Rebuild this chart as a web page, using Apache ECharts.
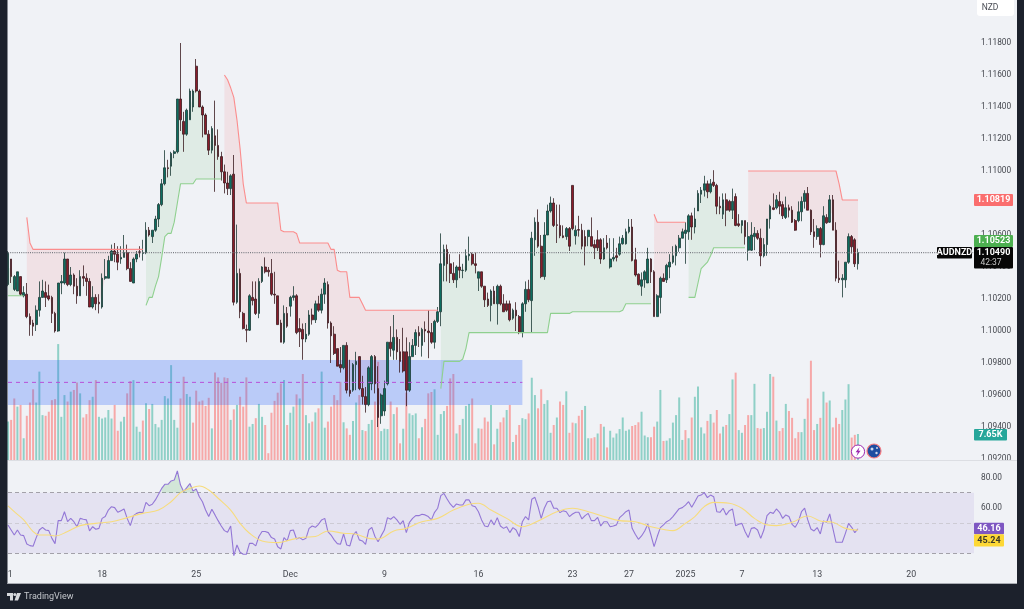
<!DOCTYPE html>
<html><head><meta charset="utf-8">
<style>html,body{margin:0;padding:0;background:#1c212c;overflow:hidden}#c{width:1024px;height:609px}</style>
<script src="https://cdn.jsdelivr.net/npm/echarts@6/dist/echarts.min.js"></script>
</head><body><div id="c"></div>
<script>
const opens=[
1.1029,1.1045,1.1026,1.1025,1.1034,1.1022,1.1023,1.1009,1.1005,1.1004,
1.1013,1.1021,1.1024,1.1022,1.1021,1.1011,1.1000,1.1030,1.1030,1.1045,
1.1029,1.1035,1.1028,1.1022,1.1034,1.1033,1.1031,1.1015,1.1021,1.1018,
1.1015,1.1033,1.1033,1.1044,1.1050,1.1048,1.1045,1.1046,1.1049,1.1039,
1.1030,1.1045,1.10495,1.10485,1.1049,1.1063,1.1059,1.1063,1.1070,1.1079,
1.1092,1.1102,1.1103,1.1111,1.1112,1.1145,1.1131,1.1123,1.1132,1.1140,
1.11655,1.1150,1.1140,1.1135,1.1123,1.1113,1.1122,1.1116,1.1109,1.10995,
1.10925,1.1089,1.1098,1.1018,1.1036,1.1011,1.1001,1.10005,1.1021,1.1020,
1.1011,1.1031,1.1040,1.1038,1.1036,1.1023,1.1022,1.1005,1.0993,1.1011,
1.10155,1.1021,1.1022,1.10015,1.1001,1.0995,1.0998,1.1010,1.1007,1.1017,
1.1013,1.1023,1.1029,1.1005,1.0998,1.0989,1.0979,1.0977,1.0991,1.0963,
1.0963,1.0979,1.0984,1.0964,1.0959,1.0954,1.0967,1.0984,1.0964,1.0947,
1.0950,1.0967,1.0993,1.0988,1.0996,1.0987,1.0987,1.0987,1.0963,1.0984,
1.0991,1.0999,1.0991,1.1001,1.1000,1.0999,1.0993,1.1006,1.1012,1.1041,
1.1051,1.1042,1.1036,1.1032,1.1040,1.10378,1.1038,1.1047,1.1048,1.1042,
1.1033,1.1037,1.1028,1.1020,1.1016,1.1025,1.1017,1.1028,1.1017,1.1017,
1.1017,1.1008,1.1013,1.1009,1.0999,1.1017,1.1026,1.1019,1.1057,1.1068,
1.1053,1.1034,1.1060,1.1075,1.1080,1.10664,1.1066,1.10595,1.1059,1.1064,
1.1091,1.10595,1.10634,1.1063,1.1059,1.1059,1.1059,1.1054,1.1057,1.1057,
1.1045,1.1055,1.1040,1.1045,1.1047,1.1048,1.10545,1.10545,1.1062,1.1065,
1.10445,1.10355,1.1028,1.1032,1.1030,1.1045,1.1037,1.1009,1.1021,1.1033,
1.1032,1.1040,1.1043,1.1047,1.1052,1.1058,1.1061,1.1062,1.1072,1.1065,
1.1075,1.10855,1.1088,1.1092,1.1087,1.1093,1.1091,1.1078,1.1073,1.1082,
1.1081,1.10755,1.1084,1.1067,1.1066,1.1069,1.10505,1.10505,1.1059,1.1061,
1.1058,1.1047,1.1054,1.1070,1.1077,1.1077,1.1081,1.1079,1.1071,1.1077,
1.10755,1.1069,1.1069,1.10745,1.1081,1.1086,1.10755,1.1062,1.1059,1.1064,
1.1054,1.1071,1.1068,1.1082,1.1063,1.1033,1.1032,1.1032,1.1043,1.1059,
1.1057,1.1042];
const highs=[
1.1050,1.1045,1.1035,1.1037,1.1034,1.1028,1.1030,1.1011,1.1007,1.1016,
1.1031,1.1032,1.1031,1.1029,1.1022,1.1012,1.1030,1.1035,1.1049,1.1045,
1.1040,1.1036,1.1033,1.1038,1.1041,1.1036,1.1033,1.1028,1.1023,1.1023,
1.1036,1.1045,1.1047,1.1054,1.1055,1.1053,1.1053,1.1060,1.1054,1.1043,
1.1046,1.1050,1.1053,1.1057,1.1068,1.1065,1.1063,1.1072,1.1080,1.1095,
1.1113,1.1107,1.1112,1.1113,1.1145,1.1180,1.1137,1.1139,1.11515,1.1151,
1.1170,1.1151,1.1141,1.1136,1.11255,1.1128,1.1144,1.1126,1.1112,1.1104,
1.10995,1.1098,1.1110,1.10665,1.1039,1.1012,1.1004,1.1023,1.1031,1.1031,
1.1033,1.10405,1.1046,1.1040,1.1045,1.1037,1.1022,1.1007,1.1016,1.1015,
1.1022,1.1028,1.1023,1.1008,1.10047,1.1005,1.1013,1.1014,1.1019,1.1022,
1.10265,1.1033,1.1031,1.1006,1.1003,1.0989,1.0990,1.0991,1.0993,1.0982,
1.0980,1.0987,1.0984,1.0972,1.0965,1.0978,1.0985,1.0985,1.0978,1.0961,
1.0969,1.0993,1.1003,1.1010,1.1001,1.0995,1.1002,1.0996,1.0993,1.0995,
1.1001,1.1003,1.1002,1.1006,1.1013,1.1005,1.1007,1.1015,1.1061,1.1054,
1.1054,1.1048,1.1043,1.1041,1.1048,1.1042,1.1051,1.1059,1.1049,1.1049,
1.1037,1.1037,1.1028,1.1024,1.1026,1.1028,1.1029,1.1029,1.1023,1.1019,
1.1019,1.1014,1.1018,1.1010,1.1018,1.1031,1.1032,1.1062,1.1071,1.1076,
1.1060,1.1068,1.1079,1.1084,1.1083,1.1079,1.1079,1.1066,1.1065,1.1065,
1.1091,1.1066,1.1072,1.1067,1.1063,1.1063,1.1071,1.1057,1.1063,1.1058,
1.1058,1.1060,1.1058,1.1058,1.1052,1.1059,1.1060,1.1064,1.1070,1.1070,
1.1052,1.1036,1.10366,1.1038,1.1052,1.10455,1.1038,1.1023,1.1034,1.1036,
1.1042,1.1048,1.1053,1.1054,1.1060,1.1064,1.1068,1.1073,1.1074,1.1077,
1.1088,1.1090,1.1097,1.1094,1.1095,1.11005,1.1092,1.1084,1.1086,1.1086,
1.1082,1.1089,1.1086,1.1073,1.1069,1.1069,1.1068,1.1068,1.1065,1.1063,
1.1064,1.1058,1.1070,1.1079,1.1086,1.1085,1.1087,1.1081,1.1084,1.1079,
1.1078,1.1070,1.1081,1.1084,1.1088,1.1090,1.1076,1.1070,1.1066,1.1065,
1.1078,1.1073,1.1085,1.1085,1.1068,1.1044,1.10355,1.1043,1.1061,1.1060,
1.1058,1.10515];
const lows=[
1.1028,1.1030,1.1025,1.1025,1.1022,1.1021,1.1008,1.0997,1.0997,1.1000,
1.1009,1.1021,1.1015,1.1019,1.1005,1.0999,1.09995,1.1023,1.1029,1.1028,
1.1028,1.1023,1.1017,1.1022,1.1028,1.1022,1.1015,1.1014,1.1013,1.1011,
1.1014,1.1032,1.1033,1.1044,1.1043,1.1038,1.1042,1.1046,1.1038,1.1031,
1.1030,1.1043,1.1046,1.1044,1.1048,1.1059,1.1055,1.1062,1.1065,1.1078,
1.1091,1.1096,1.1097,1.1108,1.1111,1.1125,1.1112,1.1122,1.1132,1.1137,
1.1149,1.1140,1.1121,1.1123,1.1110,1.1111,1.1087,1.1107,1.1094,1.1086,
1.1085,1.1085,1.1016,1.1017,1.1008,1.1001,1.0993,1.1000,1.1016,1.1010,
1.1008,1.1030,1.1036,1.1034,1.1022,1.1017,1.1004,1.0993,1.0992,1.1002,
1.1009,1.1019,1.0998,1.0990,1.0982,1.0993,1.0997,1.1004,1.1005,1.1012,
1.1011,1.1017,1.10015,1.0980,1.0985,1.0978,1.0974,1.0976,1.0961,1.0959,
1.0962,1.0963,1.0963,1.0954,1.0949,1.0953,1.0963,1.0961,1.0940,1.0942,
1.0947,1.0966,1.0984,1.0982,1.0982,1.0974,1.0974,1.0953,1.0962,1.0984,
1.0985,1.0990,1.0984,1.0993,1.0983,1.0992,1.0989,1.1005,1.1003,1.1031,
1.1031,1.1030,1.1030,1.1027,1.1033,1.1033,1.1037,1.1044,1.1041,1.1036,
1.1025,1.1027,1.1015,1.1015,1.1006,1.1017,1.1004,1.1016,1.1012,1.1012,
1.1006,1.1007,1.1000,1.0998,1.0996,1.1012,1.1018,1.0999,1.1047,1.1052,
1.1033,1.1032,1.1060,1.1074,1.1065,1.1055,1.1058,1.1058,1.1057,1.1050,
1.1063,1.1054,1.1059,1.1051,1.1041,1.1053,1.1053,1.1045,1.1050,1.1042,
1.10445,1.1051,1.1039,1.10435,1.10435,1.1047,1.1054,1.1054,1.1061,1.10435,
1.1034,1.10285,1.1022,1.1027,1.1030,1.1030,1.1009,1.1009,1.1011,1.1031,
1.1030,1.1033,1.1042,1.1041,1.10495,1.1058,1.1042,1.1057,1.1057,1.1061,
1.1075,1.1080,1.1084,1.1083,1.1086,1.1090,1.1073,1.1073,1.1070,1.10655,
1.10745,1.1070,1.10655,1.1065,1.1061,1.1054,1.1044,1.1050,1.10505,1.1057,
1.10405,1.1046,1.1047,1.1064,1.10755,1.1076,1.1073,1.1070,1.1070,1.1071,
1.10675,1.10626,1.1068,1.10686,1.10765,1.10755,1.1060,1.1052,1.1057,1.1046,
1.10536,1.1067,1.10676,1.1063,1.1031,1.1030,1.1021,1.1027,1.1042,1.10484,
1.1040,1.10384];
const closes=[
1.1049,1.1034,1.1034,1.1037,1.1023,1.1024,1.1009,1.1004,1.1003,1.1013,
1.1021,1.1025,1.1021,1.1020,1.1011,1.1000,1.1030,1.1031,1.1045,1.1029,
1.1035,1.1028,1.1022,1.1034,1.1033,1.1031,1.1015,1.1021,1.1017,1.1017,
1.1033,1.1034,1.1044,1.1050,1.1048,1.1043,1.1046,1.1049,1.1039,1.1031,
1.1045,1.1048,1.1049,1.1049,1.1063,1.1060,1.1063,1.1070,1.1079,1.1092,
1.1102,1.11015,1.1111,1.1112,1.1145,1.1132,1.1123,1.1138,1.1150,1.1150,
1.1150,1.1140,1.1135,1.1123,1.1113,1.11265,1.1116,1.1109,1.10995,1.10925,
1.1089,1.1097,1.1018,1.1036,1.1012,1.10015,1.10005,1.1022,1.1019,1.1011,
1.1031,1.1040,1.1037,1.1037,1.1023,1.10225,1.1004,1.0993,1.1011,1.1003,
1.1021,1.1022,1.0999,1.09995,1.0995,1.0998,1.1010,1.1007,1.1017,1.1013,
1.1023,1.1030,1.1005,1.0997,1.0986,1.0978,1.0977,1.0991,1.0963,1.0961,
1.0979,1.0981,1.0964,1.0959,1.0954,1.0977,1.0984,1.0967,1.0946,1.0960,
1.0964,1.0993,1.0989,1.0996,1.0987,1.0981,1.0975,1.0963,1.0984,1.0991,
1.0999,1.0997,1.1001,1.1000,1.0999,1.0993,1.1006,1.1012,1.1042,1.1051,
1.1042,1.1036,1.1032,1.1040,1.1038,1.1038,1.1047,1.1048,1.1042,1.1041,
1.1037,1.1028,1.10195,1.1016,1.1025,1.1017,1.1028,1.1017,1.1012,1.1013,
1.1007,1.1013,1.10095,1.0999,1.1017,1.1026,1.10195,1.1058,1.1068,1.1053,
1.1034,1.1060,1.1075,1.1080,1.1066,1.1066,1.10595,1.10585,1.1064,1.1053,
1.1064,1.1063,1.1063,1.1053,1.1053,1.1063,1.1053,1.1052,1.1052,1.1045,
1.1052,1.1052,1.1045,1.1046,1.1046,1.10545,1.1058,1.1062,1.1065,1.1044,
1.1035,1.1029,1.1032,1.1037,1.1045,1.1037,1.1009,1.1022,1.1033,1.1031,
1.1041,1.1043,1.1047,1.1053,1.1058,1.1062,1.1063,1.1072,1.1065,1.1070,
1.1086,1.1088,1.1092,1.1087,1.1092,1.1091,1.1078,1.1077,1.1082,1.10755,
1.10755,1.1081,1.1066,1.1066,1.1069,1.1059,1.1059,1.1060,1.1061,1.1058,
1.1047,1.1054,1.1070,1.1078,1.1076,1.1082,1.1078,1.1072,1.1077,1.10755,
1.1068,1.1063,1.10745,1.1081,1.1086,1.10755,1.1062,1.1059,1.1064,1.1054,
1.1072,1.10676,1.1082,1.1063,1.1033,1.1032,1.1033,1.1043,1.1059,1.10526,
1.1042,1.1049];
const volumes=[
11.3,11.8,18.1,15.7,16.2,6.4,13,16.9,20.8,16.9,
26,13.2,13,14.2,17.6,17.9,34.1,12.7,19.1,17.2,
20.1,20.6,22.8,19.6,12.5,13.5,17.6,18.6,23.5,12.7,
12.2,12.5,14.7,12.2,16.2,8.6,11.3,12.7,19.6,23.2,
23.5,9.8,8.3,11.6,16.7,15,16.5,10.6,9.6,11.8,
18.8,18.1,27.9,11.8,9.5,18.1,24.5,19.4,18.6,11,
20.4,17.2,17.5,15.9,18.3,9.3,25.7,24.3,22.7,24.3,
24.1,11.8,14.9,16.2,18.6,15.7,24.3,9.8,10.6,12.3,
16.5,12.7,10.3,2,13.9,17.4,19.8,22.5,23.5,10.3,
13.9,15.7,19.3,18.1,25.3,13.2,10.8,11.3,14,15.2,
26,9.5,11.3,
15.7,19.1,17.6,23,11.1,9.3,7.4,11.5,16.9,19.1,
8.8,8.5,10.6,11.8,17.2,28.9,8.5,9.2,9.1,17.2,
13.5,15.5,4.9,9.2,19.8,13.7,13.2,13.7,6.4,9.6,
12.1,19.6,20,20.8,7.4,13.5,14.4,15.9,24,25.3,
7.8,10.3,12.1,15.9,16.5,18.1,4.9,9.3,9.2,12.5,
11.3,16.2,4.6,9.2,11.1,12.5,14.7,16.2,5.3,7.4,
10.3,12.3,12,13.7,24.2,19.1,15.2,20.8,16.5,17.6,
8,10.3,12.5,17.2,16.2,20.2,8,11,10.8,13,
14.7,15.9,6.4,6.4,6.7,7.8,10.6,9.8,3.7,8.6,
6.6,7.8,9.1,12.5,8.6,9,10,10.3,11.1,14.2,
7.2,6.7,6.7,9.8,11.3,20.6,5.6,5.7,
6.4,11,13.2,18.4,5.9,8.8,6.4,12.5,18.6,
21.6,9.6,7.8,11.5,13.5,11,14.7,7.8,9.8,10.3,
13.5,23.7,25.7,8.8,8,10.3,13.2,13.2,22.4,9.4,
9.2,9.4,14.2,25.3,24.5,11.6,8.5,9.4,16.5,14.4,
12.4,6.4,8.2,8.2,12.1,18.1,29.2,8.8,10.6,12.4,
20.1,16.9,17.5,9.6,12.4,10.6,14.7,17.8,22.3,6.6,
7.4,7.65];
const volumeSides=
"GRRGRGRRRG"+"GGRRRRGGGR"+"GRRGRRRGRG"+"GGGGRRGGRR"+"GGGRGRGGGG"+"GGGGGRRGGR"+"RRRRRGRRRR"+"RGRGRRRGGR"+"GGRRRRRRGR"+"GGRGRGGRGR"+"GGR"+
"RRRRGRRGGR"+"GRGGRRGGGR"+"GRRGRGGGRG"+"RRRGGGGRRR"+"GRGGGRRGRR"+"RGRGRRGRGR"+"RGGRGGRRGG"+"GRGRRGRRGR"+"RGGRRGRGRG"+"GGGGGGRRRG"+"GGRRGGRG"+
"GGGGGRGRG"+"GGGRGRRRGR"+"GGRGGRRGGR"+"RGGGRGRRGR"+"RRRGGRRRGR"+"GRGRRRGGGR"+"RG";
const rsiValues=[
48.6,45.3,42,45.3,42,41.6,36.1,35,34.6,40.3,
45.3,47.1,45.3,44.9,39.8,36.3,51.5,51.5,57.4,50.8,
53,50.8,47.5,53,52.4,52,44.7,47.5,45.8,46.4,
53,54.2,58.5,60.7,60.1,57,58.1,59.2,53,48.2,
54.8,56.3,57,56.8,63.6,61.4,62.3,65.2,68.9,72.8,
75.5,75.5,77.7,78.3,84.3,75,70.7,73.3,76,71,
72.4,67.3,64,58.5,54.2,59,55.3,51.5,48,44.9,
43.8,48,28.4,35.4,30.6,29.3,29.3,36.5,36.5,34.8,
41,44.3,44.3,43.6,40.3,39.4,34.3,32.8,40.3,38.1,
44.9,45.3,39.4,40.3,38.8,39.8,46.4,48,47.1,49.1,
52,53,44.3,42,38.8,36.3,
35.9,42.7,35.4,34.8,42,44.3,38.8,38.1,35.9,45.3,
47.1,41,37.6,41.6,45.3,53.5,52.4,54.2,52,49.1,
51.5,43.6,50.4,53,54.8,54.8,55.7,55.3,54.2,52,
57,59.7,68,69.5,65.8,62.5,60.3,62.5,61.8,61.8,
65.2,65.2,61.4,60.7,57.4,52,48,47.5,52,48.7,
53.5,48,46.4,47.5,43.6,46.9,45.3,41,50.8,54.2,
52,65.6,66.9,60.7,53,59.7,64,64.5,59.7,59.7,
56.8,58.1,57.4,54.2,55.9,57,57,52.6,54.8,56.3,
51.5,51.5,53.7,48,50.8,50.8,47.5,48,48.7,53.5,
55.3,57.4,58.5,46.4,42.5,39.2,41.4,44.7,49.1,42,
34.3,41,46.9,48.7,50.8,
52,54.2,56.8,59.4,60.1,61.8,64,60.3,64,
67.8,68.4,70,66.7,68.4,67.3,57.4,57,59.7,55.3,
58.1,59.2,48.2,49.1,49.7,44.3,40.3,46.4,46.9,45.3,
39.8,45.3,54.8,57,56.3,59.2,57,53,55.3,54.2,
49.1,47.1,50.8,57.4,59.7,52,46,44.7,46.9,42.7,
51.3,50.4,55.9,46.4,37.2,37.2,37.2,43.1,49.7,47.1,
43.6,46.16];
const rsiMaBars=[0,2,5,8,10,13,15,19,23,28,33,38,43,48,52,55,58,61,64,67,71,74,77,81,86,90,94,98,102,107,111,115,118,123,127,132,137,142,147,150,154,159,164,169,175,180,185,190,195,200,205,210,212,216,219,222,225,230,234,238,242,245,250,255,259,263,267,271];
const rsiMaValues=[61.2,57.4,52,44.3,42,42,41.4,44.3,48.2,49.7,50.8,53.5,56.3,58.5,64,70,72.8,74.4,71.7,66.3,58.5,49.7,43.2,38.1,37,38.8,40.5,41,44.7,43.2,42.5,39.8,39.4,44.7,46.4,50.8,53,58.5,62.3,63,58.5,53,47.5,51.3,57.4,59.7,57.4,54.2,51.5,50.8,47.5,45.3,44.9,49.7,54.2,60.8,63.6,63,59.7,53,48.7,48.2,50.4,54.6,51.3,50.4,46.4,45.24];
const stopLevels=[1.1022,1.1071,1.1055,1.1051,
1.1016,1.1021,1.1028,1.1034,1.1046,1.1059,1.1061,1.1068,1.1080,1.1092,1.1095,
1.1160,1.1157,1.1152,1.1146,1.1132,1.1114,1.1092,1.1080,1.1063,1.1062,1.1061,1.1055,1.1051,1.1038,1.1037,1.1021,1.1017,1.1013,
1.0964,1.0981,1.09825,1.0989,1.0999,1.1011,1.1012,1.1013,1.1017,
1.1073,1.1068,
1.1021,1.1030,1.1039,1.1041,1.1043,1.1047,1.1052,
1.1100,1.1092,1.10819];
const stopBarCounts=[6,1,1,36,
1,2,1,1,1,1,2,1,1,5,9,
1,1,1,1,1,1,1,11,1,4,1,10,2,1,3,4,1,24,
1,6,1,1,26,7,16,1,9,
1,10,
3,1,1,1,1,1,11,
29,1,6];
const stopRunLengths=[6,38,25,69,68,11,19,36];
const stopRunSides=["G","R","G","R","G","R","G","R"];
const priceTicks=[1.118,1.116,1.114,1.112,1.11,1.108,1.106,1.104,1.102,1.1,1.098,1.096,1.094,1.092];
const rsiTicks=[80,60];
const timeTickBars=[0,30,60,90,120,150,180,198,216,234,258,288];
const timeTickLabels=["  1","18","25","Dec","9","16","23","27","2025","7","13","20"];
const rsiBandLevels=[70,50,30];
const zoneTop=1.09819, zoneBottom=1.09537, zoneMid=1.09679, zoneEndBar=164;
const lastPrice=1.1049;

const N=closes.length, CATS=309;
const cats=[];for(let i=0;i<CATS;i++)cats.push(String(i));
const stops=[];stopLevels.forEach((v,k)=>{for(let j=0;j<stopBarCounts[k];j++)stops.push(v);});
const sideOf=[];stopRunLengths.forEach((l,k)=>{for(let j=0;j<l;j++)sideOf.push(stopRunSides[k]);});
const mids=closes.map((c,i)=>(c+opens[i])/2);
const on=(s,i)=>sideOf[i]===s&&stops[i]!==undefined;
const redLine=stops.map((v,i)=>on("R",i)?v:null), greenLine=stops.map((v,i)=>on("G",i)?v:null);
const redBase=mids.map((m,i)=>on("R",i)?Math.min(m,stops[i]):null);
const redDiff=mids.map((m,i)=>on("R",i)?Math.max(0,stops[i]-m):null);
const greenBase=mids.map((m,i)=>on("G",i)?Math.min(m,stops[i]):null);
const greenDiff=mids.map((m,i)=>on("G",i)?Math.max(0,m-stops[i]):null);
const overBase=rsiValues.map(v=>v>70?70:null), overDiff=rsiValues.map(v=>v>70?v-70:null);
const PRICE_MAX=1.118+43/16000, PRICE_MIN=1.118-417/16000;
const FONT="Roboto,'Noto Sans',sans-serif";
const TAXT="#45484f";

const chart=echarts.init(document.getElementById('c'),null,{renderer:'canvas',width:1024,height:609});
const hiddenStack=(stack,data,z)=>({type:'line',xAxisIndex:0,yAxisIndex:0,stack,stackStrategy:'all',data,symbol:'none',lineStyle:{opacity:0},silent:true,z});
const fillStack=(stack,data,color,z)=>({type:'line',xAxisIndex:0,yAxisIndex:0,stack,stackStrategy:'all',data,symbol:'none',lineStyle:{opacity:0},areaStyle:{color,opacity:1},silent:true,z});
function tag(x,y,w,h,bg,text,fill){
  return [{type:'rect',shape:{x,y,width:w,height:h,r:1},style:{fill:bg},z:200,silent:true},
  {type:'text',style:{text,x:x+w/2,y:y+h/2,fill,font:"bold 9px "+FONT,textAlign:'center',textVerticalAlign:'middle'},z:201,silent:true}];
}
const graphics=[
 {type:'rect',shape:{x:0,y:0,width:7.5,height:609},style:{fill:'#1c212c'},z:190,silent:true},
 {type:'rect',shape:{x:1017,y:0,width:7,height:609},style:{fill:'#1c212c'},z:190,silent:true},
 {type:'rect',shape:{x:0,y:584,width:1024,height:25},style:{fill:'#1c212c'},z:190,silent:true},
 {type:'rect',shape:{x:7.5,y:583,width:1009.5,height:1},style:{fill:'#a9acb3'},z:190,silent:true},
 {type:'rect',shape:{x:8,y:460,width:1009,height:1},style:{fill:'#dcdee3'},z:5,silent:true},
 {type:'rect',shape:{x:977,y:-3,width:37,height:19,r:3},style:{fill:'#ffffff'},z:200,silent:true},
 {type:'text',style:{text:'NZD',x:990,y:8,fill:'#4a4d55',font:"8.5px "+FONT,textAlign:'center',textVerticalAlign:'middle'},z:201,silent:true},
 ...tag(974,194,39,12,'#fa6e6e','1.10819','#ffffff'),
 ...tag(974,235,39,12,'#4caf50','1.10523','#ffffff'),
 {type:'rect',shape:{x:974,y:247,width:39,height:21.5,r:1},style:{fill:'#060606'},z:200,silent:true},
 {type:'text',style:{text:'1.10490',x:993.5,y:253,fill:'#ffffff',font:"bold 9px "+FONT,textAlign:'center',textVerticalAlign:'middle'},z:201,silent:true},
 {type:'text',style:{text:'42:37',x:991,y:263,fill:'#c9c9c9',font:"8.5px "+FONT,textAlign:'center',textVerticalAlign:'middle'},z:201,silent:true},
 ...tag(937,247,35,11.5,'#060606','AUDNZD','#ffffff'),
 ...tag(974,429,33,11.5,'#26a69a','7.65K','#ffffff'),
 ...tag(974,522.7,30,11.5,'#7e57c2','46.16','#ffffff'),
 ...tag(974,534.2,30,12.2,'#fdd835','45.24','#3a3a2a'),
 {type:'circle',shape:{cx:858,cy:451.6,r:6.6},style:{fill:'#ffffff',stroke:'#9c27b0',lineWidth:1},z:200,silent:true},
 {type:'polygon',shape:{points:[[859.6,447],[855.6,452.3],[857.8,452.3],[856.4,456.2],[860.6,450.8],[858.4,450.8]]},style:{fill:'#9c27b0'},z:201,silent:true},
 {type:'circle',shape:{cx:874,cy:451,r:7},style:{fill:'#1f4ea1',stroke:'#f77c80',lineWidth:1.2},z:200,silent:true},
 {type:'circle',shape:{cx:872,cy:449,r:1.5},style:{fill:'#cfd8ec'},z:201,silent:true},
 {type:'circle',shape:{cx:876.5,cy:453,r:1.2},style:{fill:'#cfd8ec'},z:201,silent:true},
 {type:'circle',shape:{cx:877,cy:448,r:1},style:{fill:'#cfd8ec'},z:201,silent:true},
 {type:'polygon',shape:{points:[[7,593],[13,593],[13,600.5],[10,600.5],[10,596],[7,596]]},style:{fill:'#d6d8dc'},z:201,silent:true},
 {type:'polygon',shape:{points:[[17,593],[21,593],[18,600.5],[14.5,600.5]]},style:{fill:'#d6d8dc'},z:201,silent:true},
 {type:'circle',shape:{cx:14.8,cy:594.6,r:1.5},style:{fill:'#d6d8dc'},z:201,silent:true},
 {type:'text',style:{text:'TradingView',x:24,y:597,fill:'#c4c7cc',font:"9px "+FONT,textAlign:'left',textVerticalAlign:'middle'},z:201,silent:true}
];
const option={
 animation:false,backgroundColor:'#f0f2f6',
 grid:[{left:8,width:966,top:0,height:460},{left:8,width:966,top:461,height:104}],
 xAxis:[
  {type:'category',gridIndex:0,data:cats,boundaryGap:false,axisLine:{show:false},axisTick:{show:false},axisLabel:{show:false},splitLine:{show:false}},
  {type:'category',gridIndex:1,data:cats,boundaryGap:false,axisLine:{show:false},axisTick:{show:false},splitLine:{show:false},
   axisLabel:{interval:0,hideOverlap:false,margin:5,color:TAXT,fontSize:8.8,fontFamily:FONT,
    formatter:(v,i)=>{const k=timeTickBars.indexOf(i);return k<0?'':timeTickLabels[k];}}}
 ],
 yAxis:[
  {type:'value',gridIndex:0,position:'right',min:PRICE_MIN,max:PRICE_MAX,axisLine:{show:false},axisTick:{show:false},splitLine:{show:false},
   axisLabel:{customValues:priceTicks,margin:7,padding:[2,0,0,0],color:TAXT,fontSize:8.3,fontFamily:FONT,formatter:v=>v.toFixed(5)}},
  {type:'value',gridIndex:0,min:0,max:460/3.4,show:false},
  {type:'value',gridIndex:1,position:'right',min:22.2,max:90.9,axisLine:{show:false},axisTick:{show:false},splitLine:{show:false},
   axisLabel:{customValues:rsiTicks,margin:7,padding:[2,0,0,0],color:TAXT,fontSize:8.3,fontFamily:FONT,formatter:v=>v.toFixed(2)}}
 ],
 series:[
  {type:'bar',xAxisIndex:0,yAxisIndex:1,barWidth:2,z:1,silent:true,
   data:volumes.map((v,i)=>({value:v,itemStyle:{color:volumeSides[i]==='G'?'#8fd0c7':'#f6a8a8'}}))},
  hiddenStack('rf',redBase,2),fillStack('rf',redDiff,'rgba(242,54,69,0.09)',2),
  hiddenStack('gf',greenBase,2),fillStack('gf',greenDiff,'rgba(76,175,80,0.1)',2),
  {type:'candlestick',xAxisIndex:0,yAxisIndex:0,barWidth:2.2,z:4,silent:true,
   itemStyle:{color:'#0d6e60',color0:'#8a1c2a',borderColor:'#1c3a36',borderColor0:'#3a1a20',borderWidth:0.8},
   data:closes.map((c,i)=>[opens[i],c,lows[i],highs[i]]),
   markArea:{silent:true,z:3,itemStyle:{color:'rgba(41,98,255,0.27)'},
    data:[[{xAxis:0,yAxis:zoneTop},{xAxis:zoneEndBar,yAxis:zoneBottom}]]}
  },
  {type:'line',xAxisIndex:0,yAxisIndex:0,data:[[0,zoneMid],[zoneEndBar,zoneMid]],symbol:'none',silent:true,z:5,lineStyle:{color:'#b84fd8',width:1,type:[4,4]}},
  {type:'line',xAxisIndex:0,yAxisIndex:0,data:[[0,lastPrice],[308,lastPrice]],symbol:'none',silent:true,z:5,lineStyle:{color:'#7a7c83',width:1.2,type:[1,1.2]}},
  {type:'line',xAxisIndex:0,yAxisIndex:0,data:redLine,symbol:'none',silent:true,z:6,lineStyle:{color:'#fb8d8d',width:1.1}},
  {type:'line',xAxisIndex:0,yAxisIndex:0,data:greenLine,symbol:'none',silent:true,z:6,lineStyle:{color:'#8fd08f',width:1.1}},
  {type:'line',xAxisIndex:1,yAxisIndex:2,data:rsiValues,symbol:'none',silent:true,z:6,lineStyle:{color:'#9377d6',width:1.1},
   markArea:{silent:true,itemStyle:{color:'rgba(126,87,194,0.1)'},data:[[{xAxis:0,yAxis:70},{xAxis:308,yAxis:30}]]},
   markLine:{silent:true,symbol:'none',label:{show:false},
    data:rsiBandLevels.map(v=>({yAxis:v,lineStyle:{color:v===50?'#cdcbd4':'#a3a1a9',type:[4,3],width:1}}))}},
  {type:'line',xAxisIndex:1,yAxisIndex:2,stack:'ob',stackStrategy:'all',data:overBase,symbol:'none',lineStyle:{opacity:0},silent:true,z:5},
  {type:'line',xAxisIndex:1,yAxisIndex:2,stack:'ob',stackStrategy:'all',data:overDiff,symbol:'none',lineStyle:{opacity:0},silent:true,z:5,areaStyle:{color:'rgba(76,175,80,0.25)'}},
  {type:'line',xAxisIndex:1,yAxisIndex:2,data:rsiMaBars.map((b,k)=>[b,rsiMaValues[k]]),symbol:'none',smooth:0.4,silent:true,z:7,lineStyle:{color:'#f7dc7c',width:1.1}}
 ],
 graphic:{elements:graphics}
};
chart.setOption(option);
</script></body></html>
